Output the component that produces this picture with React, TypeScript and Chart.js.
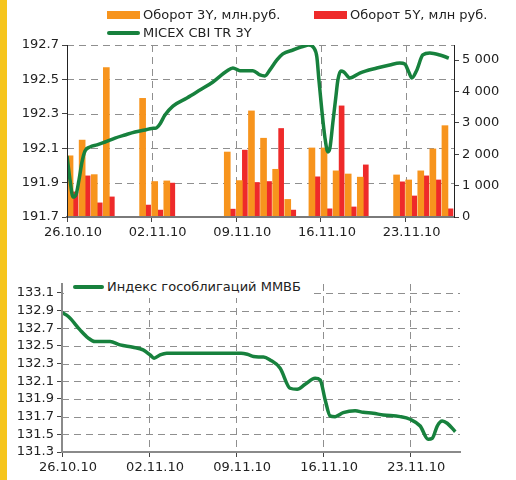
import React, { useEffect, useRef, useState } from 'react';
import { Chart, registerables } from 'chart.js';

Chart.register(...registerables);

const FONT = '"DejaVu Sans", Verdana, sans-serif';
const TEXT = '#222222';
const GRID = '#8f8f8f';
const ORANGE = '#f7941d';
const RED = '#ee2a2a';
const GREEN = '#17813d';
const YELLOW = '#f6c51c';
const DASH_ON = 7;
const DASH_OFF = 5;

// ---- X axis: days counted from 26.10.10 ----
const dayCount = 32;
const weekTickDays = [0, 7, 14, 21, 28];
const weekTickLabels = ['26.10.10', '02.11.10', '09.11.10', '16.11.10', '23.11.10'];

// ---- Top panel: turnover bars (trading days) ----
const tradingDays = [0, 1, 2, 3, 6, 7, 8, 13, 14, 15, 16, 17, 18, 20, 21, 22, 23, 24, 27, 28, 29, 30, 31];
const turnover3Y = [1950, 2450, 1350, 4760, 3780, 1130, 1150, 2070, 1160, 3380, 2510, 1520, 560, 2200, 2200, 1470, 1370, 1270, 1340, 1180, 1470, 2170, 2910];
const turnover5Y = [800, 1310, 450, 640, 380, 220, 1080, 250, 2130, 1100, 1130, 2820, 220, 1280, 260, 3540, 320, 1660, 1120, 670, 1310, 1180, 260];

// ---- Top panel: MICEX CBI TR 3Y line ----
const micexDays = [0, 0.25, 0.5, 0.74, 0.99, 1.24, 1.49, 1.9, 2.48, 3.14, 3.97, 4.79, 5.62, 6.45, 7.02, 7.36, 7.69, 8.1, 8.76, 9.92, 10.99, 12.07, 13.22, 13.72, 14.3, 15.37, 15.95, 16.36, 16.78, 17.36, 17.85, 18.68, 19.5, 20.0, 20.41, 20.66, 20.83, 21.07, 21.32, 21.57, 21.74, 21.98, 22.23, 22.4, 22.64, 22.89, 23.39, 24.21, 25.62, 26.69, 27.52, 27.93, 28.26, 28.51, 28.93, 29.42, 30.0, 30.83, 31.57];
const micexValues = [192.055, 191.915, 191.816, 191.828, 191.915, 192.02, 192.084, 192.107, 192.119, 192.136, 192.159, 192.177, 192.194, 192.206, 192.215, 192.217, 192.241, 192.293, 192.345, 192.392, 192.438, 192.485, 192.549, 192.566, 192.551, 192.551, 192.526, 192.52, 192.555, 192.613, 192.648, 192.671, 192.691, 192.7, 192.683, 192.63, 192.497, 192.322, 192.165, 192.078, 192.101, 192.247, 192.398, 192.497, 192.549, 192.543, 192.508, 192.537, 192.566, 192.584, 192.595, 192.589, 192.543, 192.508, 192.555, 192.642, 192.653, 192.642, 192.624];

// ---- Bottom panel: government bond index line ----
const rgbiDays = [0, 0.51, 1.45, 2.09, 2.65, 3.86, 4.67, 5.71, 6.52, 7.08, 7.4, 7.89, 8.42, 11.1, 14.4, 14.9, 15.4, 15.8, 16.2, 16.73, 17.54, 18.34, 18.91, 19.55, 20.35, 20.76, 21.16, 21.56, 21.96, 22.61, 23.57, 24.22, 25.02, 25.82, 27.19, 27.99, 28.8, 29.44, 29.77, 30.17, 30.57, 30.97, 31.62];
const rgbiValues = [132.877, 132.832, 132.681, 132.591, 132.549, 132.549, 132.511, 132.485, 132.455, 132.398, 132.361, 132.398, 132.417, 132.417, 132.417, 132.405, 132.38, 132.375, 132.375, 132.341, 132.248, 132.021, 132.01, 132.066, 132.134, 132.115, 131.889, 131.707, 131.7, 131.745, 131.767, 131.749, 131.738, 131.719, 131.7, 131.67, 131.594, 131.444, 131.455, 131.594, 131.651, 131.625, 131.53];

// ---- Axis ticks & ranges ----
const topLeftTicks = [191.7, 191.9, 192.1, 192.3, 192.5, 192.7];
const topLeftRange = [191.7, 192.7];
const topRightTicks = [0, 1000, 2000, 3000, 4000, 5000];
const topRightRange = [0, 5480];
const bottomTicks = [131.3, 131.5, 131.7, 131.9, 132.1, 132.3, 132.5, 132.7, 132.9, 133.1];
const bottomRange = [131.3, 133.2];

// ---- Series labels ----
const label3Y = 'Оборот 3Y, млн.руб.';
const label5Y = 'Оборот 5Y, млн руб.';
const labelMicex = 'MICEX CBI TR 3Y';
const labelRgbi = 'Индекс гособлигаций ММВБ';

const tickFont = { family: FONT, size: 13 };

function fmtThousands(v: number) {
  return String(Math.round(v)).replace(/\B(?=(\d{3})+(?!\d))/g, ' ');
}

function makeXAxis(labelOffset: number, height: number, borderColor: string) {
  return {
    type: 'linear',
    min: 0,
    max: dayCount,
    offset: false,
    afterBuildTicks: (s: any) => {
      s.ticks = weekTickDays.map((v) => ({ value: v }));
    },
    afterFit: (s: any) => {
      s.height = height;
    },
    ticks: {
      callback: (v: any) => {
        const i = weekTickDays.indexOf(Number(v));
        return i >= 0 ? weekTickLabels[i] : '';
      },
      labelOffset,
      autoSkip: false,
      maxRotation: 0,
      color: TEXT,
      font: tickFont,
      padding: 3,
    },
    grid: { offset: false, drawOnChartArea: false, tickLength: 5, tickColor: '#444', tickWidth: 1 },
    border: { color: borderColor, width: 2, z: 1 },
  };
}

function makeYAxis(
  position: string,
  range: number[],
  ticksList: number[],
  width: number,
  fmt: (v: number) => string,
  borderColor: string,
  borderWidth: number
) {
  return {
    type: 'linear',
    position,
    min: range[0],
    max: range[1],
    afterBuildTicks: (s: any) => {
      s.ticks = ticksList.map((v) => ({ value: v }));
    },
    afterFit: (s: any) => {
      s.width = width;
    },
    ticks: { callback: (v: any) => fmt(Number(v)), color: TEXT, font: tickFont, padding: 3 },
    grid: { drawOnChartArea: false, tickLength: 5, tickColor: '#444', tickWidth: 1 },
    border: { color: borderColor, width: borderWidth, z: 1 },
  };
}

type GridGeom = { left: number; right: number; top: number; bottom: number; xs: number[]; ys: number[] };

// Grid geometry read back from the chart's own scales.
function readGrid(chart: any, xTicks: number[], yTicks: number[], yMin: number): GridGeom {
  const a = chart.chartArea;
  return {
    left: a.left,
    right: a.right,
    top: a.top,
    bottom: a.bottom,
    xs: xTicks.filter((v) => v !== 0).map((v) => Math.round(chart.scales.x.getPixelForValue(v))),
    ys: yTicks.filter((v) => Math.abs(v - yMin) > 1e-9).map((v) => Math.round(chart.scales.y.getPixelForValue(v))),
  };
}

const hDashBg = `repeating-linear-gradient(to right, ${GRID} 0px, ${GRID} ${DASH_ON}px, transparent ${DASH_ON}px, transparent ${DASH_ON + DASH_OFF}px)`;
const vDashBg = `repeating-linear-gradient(to bottom, ${GRID} 0px, ${GRID} ${DASH_ON}px, transparent ${DASH_ON}px, transparent ${DASH_ON + DASH_OFF}px)`;

function GridLines({ g }: { g: GridGeom | null }) {
  if (!g) return null;
  return (
    <>
      {g.ys.map((y, i) => (
        <div
          key={'h' + i}
          style={{ position: 'absolute', left: g.left, top: y, width: g.right - g.left, height: 1, backgroundImage: hDashBg }}
        />
      ))}
      {g.xs.map((x, i) => (
        <div
          key={'v' + i}
          style={{ position: 'absolute', left: x, top: g.top, width: 1, height: g.bottom - g.top, backgroundImage: vDashBg }}
        />
      ))}
    </>
  );
}

const textStyle: React.CSSProperties = {
  position: 'absolute',
  fontFamily: FONT,
  fontSize: 13,
  lineHeight: '16px',
  color: TEXT,
  whiteSpace: 'nowrap',
};

export default function App() {
  const topRef = useRef<HTMLCanvasElement>(null);
  const bottomRef = useRef<HTMLCanvasElement>(null);
  const [topGrid, setTopGrid] = useState<GridGeom | null>(null);
  const [bottomGrid, setBottomGrid] = useState<GridGeom | null>(null);

  useEffect(() => {
    const top = new Chart(topRef.current as HTMLCanvasElement, {
      type: 'bar',
      data: {
        datasets: [
          {
            type: 'line',
            label: labelMicex,
            data: micexDays.map((d, i) => ({ x: d, y: micexValues[i] })),
            xAxisID: 'x',
            yAxisID: 'y',
            borderColor: GREEN,
            borderWidth: 3.5,
            pointRadius: 0,
            cubicInterpolationMode: 'monotone',
            fill: false,
            order: 0,
          } as any,
          {
            type: 'bar',
            label: label3Y,
            data: tradingDays.map((d, i) => ({ x: d + 0.5, y: turnover3Y[i] })),
            xAxisID: 'x',
            yAxisID: 'yR',
            backgroundColor: ORANGE,
            barThickness: 6,
            order: 1,
          } as any,
          {
            type: 'bar',
            label: label5Y,
            data: tradingDays.map((d, i) => ({ x: d + 0.5, y: turnover5Y[i] })),
            xAxisID: 'x',
            yAxisID: 'yR',
            backgroundColor: RED,
            barThickness: 5,
            order: 2,
          } as any,
        ],
      },
      options: {
        responsive: false,
        animation: false,
        devicePixelRatio: 1,
        events: [],
        layout: { padding: { top: 45, left: 0, right: 0, bottom: 0 } },
        plugins: { legend: { display: false }, tooltip: { enabled: false } },
        scales: {
          x: makeXAxis(6, 23, '#7a7a7a'),
          y: makeYAxis('left', topLeftRange, topLeftTicks, 67, (v) => v.toFixed(1), '#222', 1),
          yR: makeYAxis('right', topRightRange, topRightTicks, 62, fmtThousands, '#222', 1),
        } as any,
      },
    } as any);

    const bottom = new Chart(bottomRef.current as HTMLCanvasElement, {
      type: 'line',
      data: {
        datasets: [
          {
            label: labelRgbi,
            data: rgbiDays.map((d, i) => ({ x: d, y: rgbiValues[i] })),
            borderColor: GREEN,
            borderWidth: 3.5,
            pointRadius: 0,
            cubicInterpolationMode: 'monotone',
            fill: false,
          } as any,
        ],
      },
      options: {
        responsive: false,
        animation: false,
        devicePixelRatio: 1,
        events: [],
        layout: { padding: { top: 44, left: 0, right: 56, bottom: 0 } },
        plugins: { legend: { display: false }, tooltip: { enabled: false } },
        scales: {
          x: makeXAxis(6, 28, '#8a8a8a'),
          y: makeYAxis('left', bottomRange, bottomTicks, 62, (v) => v.toFixed(1), '#8a8a8a', 2),
        } as any,
      },
    } as any);

    setTopGrid(readGrid(top, weekTickDays, topLeftTicks, topLeftRange[0]));
    setBottomGrid(readGrid(bottom, weekTickDays, bottomTicks, bottomRange[0]));

    return () => {
      top.destroy();
      bottom.destroy();
    };
  }, []);

  return (
    <div style={{ position: 'absolute', left: 0, top: 0, width: 516, height: 480, background: '#ffffff', overflow: 'hidden' }}>
      <div style={{ position: 'absolute', left: 0, top: 0, width: 7, height: 480, background: YELLOW }} />

      {/* top panel: dashed grid behind the transparent canvas */}
      <div style={{ position: 'absolute', left: 0, top: 0, width: 516, height: 240 }}>
        <GridLines g={topGrid} />
        <canvas
          ref={topRef}
          width={516}
          height={240}
          style={{ position: 'absolute', left: 0, top: 0, display: 'block', width: 516, height: 240 }}
        />
      </div>

      {/* bottom panel */}
      <div style={{ position: 'absolute', left: 0, top: 240, width: 516, height: 240 }}>
        <GridLines g={bottomGrid} />
        <canvas
          ref={bottomRef}
          width={516}
          height={240}
          style={{ position: 'absolute', left: 0, top: 0, display: 'block', width: 516, height: 240 }}
        />
      </div>

      {/* top legend */}
      <div style={{ position: 'absolute', left: 107, top: 11, width: 33, height: 8, background: ORANGE }} />
      <div style={{ ...textStyle, left: 143, top: 7 }}>{label3Y}</div>
      <div style={{ position: 'absolute', left: 314, top: 11, width: 33, height: 8, background: RED }} />
      <div style={{ ...textStyle, left: 350, top: 7 }}>{label5Y}</div>
      <div style={{ position: 'absolute', left: 107, top: 31, width: 33, height: 4, borderRadius: 2, background: GREEN }} />
      <div style={{ ...textStyle, left: 143, top: 25 }}>{labelMicex}</div>

      {/* bottom legend */}
      <div style={{ position: 'absolute', left: 64, top: 276, width: 248, height: 22, background: '#ffffff' }} />
      <div style={{ position: 'absolute', left: 73, top: 285, width: 31, height: 4, borderRadius: 2, background: GREEN }} />
      <div style={{ ...textStyle, left: 107, top: 279 }}>{labelRgbi}</div>
    </div>
  );
}
